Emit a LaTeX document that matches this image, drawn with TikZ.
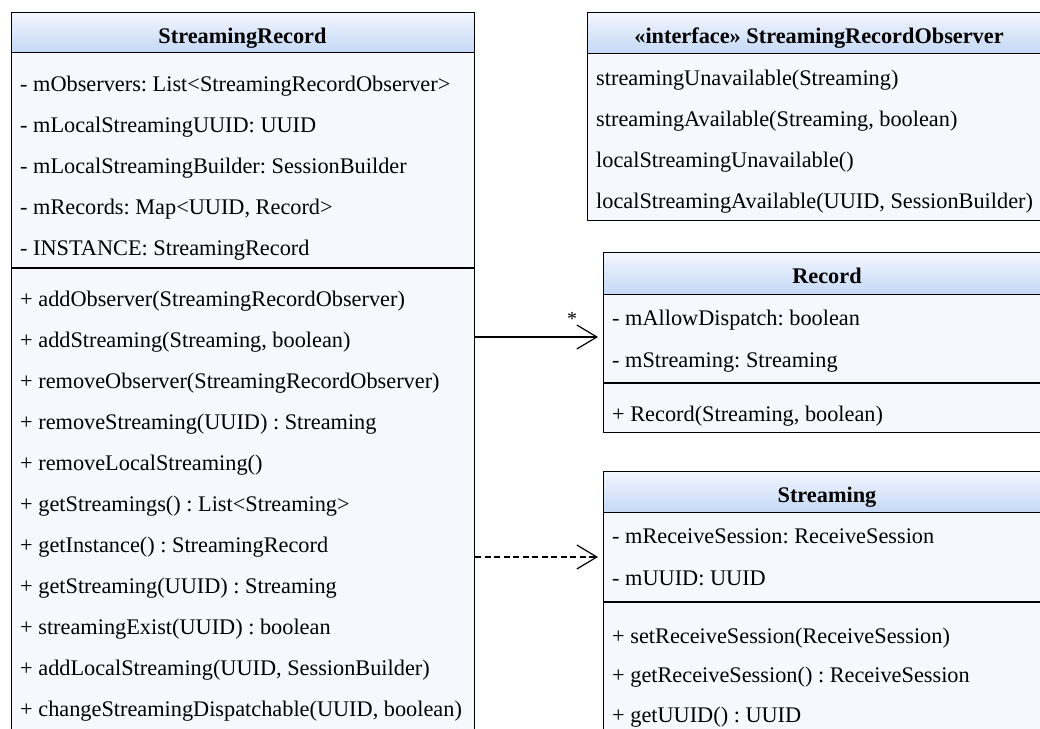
\documentclass[tikz,border=0pt]{standalone}
\usepackage{fontspec}
\setmainfont{Liberation Serif}
\usetikzlibrary{arrows.meta,calc}
\definecolor{hdtop}{HTML}{F3F6FE}
\definecolor{hdbot}{HTML}{C4D8F6}
\definecolor{bodyfill}{HTML}{F6F8FE}
\tikzset{
  box/.style={draw=black, line width=1.2pt, fill=bodyfill, inner sep=0pt, anchor=north west},
  hdr/.style={draw=black, line width=1.2pt, top color=hdtop, bottom color=hdbot, inner sep=0pt, anchor=north west},
  sep/.style={draw=black, line width=1.2pt},
  txt/.style={anchor=base west, inner sep=0pt, font=\fontsize{22.3}{26}\selectfont\frenchspacing},
  ttl/.style={anchor=base, inner sep=0pt, font=\fontsize{22.3}{26}\selectfont\bfseries\frenchspacing},
  lbl/.style={anchor=base, inner sep=0pt, font=\fontsize{20}{22}\selectfont},
  assoc/.style={line width=1.2pt, -{Straight Barb[length=20pt,width=24pt,line width=1.2pt]}, shorten >=5pt},
  dep/.style={assoc, dash pattern=on 6pt off 3.5pt},
}
\begin{document}
\begin{tikzpicture}[x=1pt,y=-1pt]
\useasboundingbox (0,0) rectangle (1040,728);
\clip (0,0) rectangle (1040,728);
\fill[white] (0,0) rectangle (1040,728);

% ---------- StreamingRecord ----------
\node[box, minimum width=463pt, minimum height=733pt] (srbox) at (11,12) {};
\node[hdr, minimum width=463pt, minimum height=40pt] (srhdr) at (11,12) {};
\node[ttl] (srt) at (242.5,43) {StreamingRecord};
\draw[sep] (srbox.west |- 0,268) -- (srbox.east |- 0,268);
\node[txt] (sra1) at (20,91) {- mObservers: List<StreamingRecordObserver>};
\node[txt] (sra2) at (20,132) {- mLocalStreamingUUID: UUID};
\node[txt] (sra3) at (20,173) {- mLocalStreamingBuilder: SessionBuilder};
\node[txt] (sra4) at (20,214) {- mRecords: Map<UUID, Record>};
\node[txt] (sra5) at (20,255) {- INSTANCE: StreamingRecord};
\node[txt] (srm1) at (20,306) {+ addObserver(StreamingRecordObserver)};
\node[txt] (srm2) at (20,347) {+ addStreaming(Streaming, boolean)};
\node[txt] (srm3) at (20,388) {+ removeObserver(StreamingRecordObserver)};
\node[txt] (srm4) at (20,429) {+ removeStreaming(UUID) : Streaming};
\node[txt] (srm5) at (20,470) {+ removeLocalStreaming()};
\node[txt] (srm6) at (20,511) {+ getStreamings() : List<Streaming>};
\node[txt] (srm7) at (20,552) {+ getInstance() : StreamingRecord};
\node[txt] (srm8) at (20,593) {+ getStreaming(UUID) : Streaming};
\node[txt] (srm9) at (20,634) {+ streamingExist(UUID) : boolean};
\node[txt] (srm10) at (20,675) {+ addLocalStreaming(UUID, SessionBuilder)};
\node[txt] (srm11) at (20,716) {+ changeStreamingDispatchable(UUID, boolean)};

% ---------- StreamingRecordObserver ----------
\node[box, minimum width=464pt, minimum height=208pt] (obbox) at (587,12) {};
\node[hdr, minimum width=464pt, minimum height=41pt] (obhdr) at (587,12) {};
\node[ttl] (obt) at (819,43) {«interface» StreamingRecordObserver};
\node[txt] (obm1) at (596,85) {streamingUnavailable(Streaming)};
\node[txt] (obm2) at (596,126) {streamingAvailable(Streaming, boolean)};
\node[txt] (obm3) at (596,167) {localStreamingUnavailable()};
\node[txt] (obm4) at (596,208.5) {localStreamingAvailable(UUID, SessionBuilder)};

% ---------- Record ----------
\node[box, minimum width=448pt, minimum height=180pt] (rcbox) at (603,252) {};
\node[hdr, minimum width=448pt, minimum height=42pt] (rchdr) at (603,252) {};
\node[ttl] (rct) at (827,283) {Record};
\draw[sep] (rcbox.west |- 0,383) -- (rcbox.east |- 0,383);
\node[txt] (rca1) at (612,325) {- mAllowDispatch: boolean};
\node[txt] (rca2) at (612,367) {- mStreaming: Streaming};
\node[txt] (rcm1) at (612,421) {+ Record(Streaming, boolean)};

% ---------- Streaming ----------
\node[box, minimum width=448pt, minimum height=280pt] (stbox) at (603,471) {};
\node[hdr, minimum width=448pt, minimum height=41pt] (sthdr) at (603,471) {};
\node[ttl] (stt) at (827,502) {Streaming};
\draw[sep] (stbox.west |- 0,602) -- (stbox.east |- 0,602);
\node[txt] (sta1) at (612,543) {- mReceiveSession: ReceiveSession};
\node[txt] (sta2) at (612,585) {- mUUID: UUID};
\node[txt] (stm1) at (612,643) {+ setReceiveSession(ReceiveSession)};
\node[txt] (stm2) at (612,682) {+ getReceiveSession() : ReceiveSession};
\node[txt] (stm3) at (612,722) {+ getUUID() : UUID};

% ---------- connectors ----------
\draw[assoc] (srbox.east |- 0,337) -- (rcbox.west |- 0,337);
\node[lbl] (star) at (572,325) {*};
\draw[dep] (srbox.east |- 0,557) -- (stbox.west |- 0,557);
\end{tikzpicture}
\end{document}
